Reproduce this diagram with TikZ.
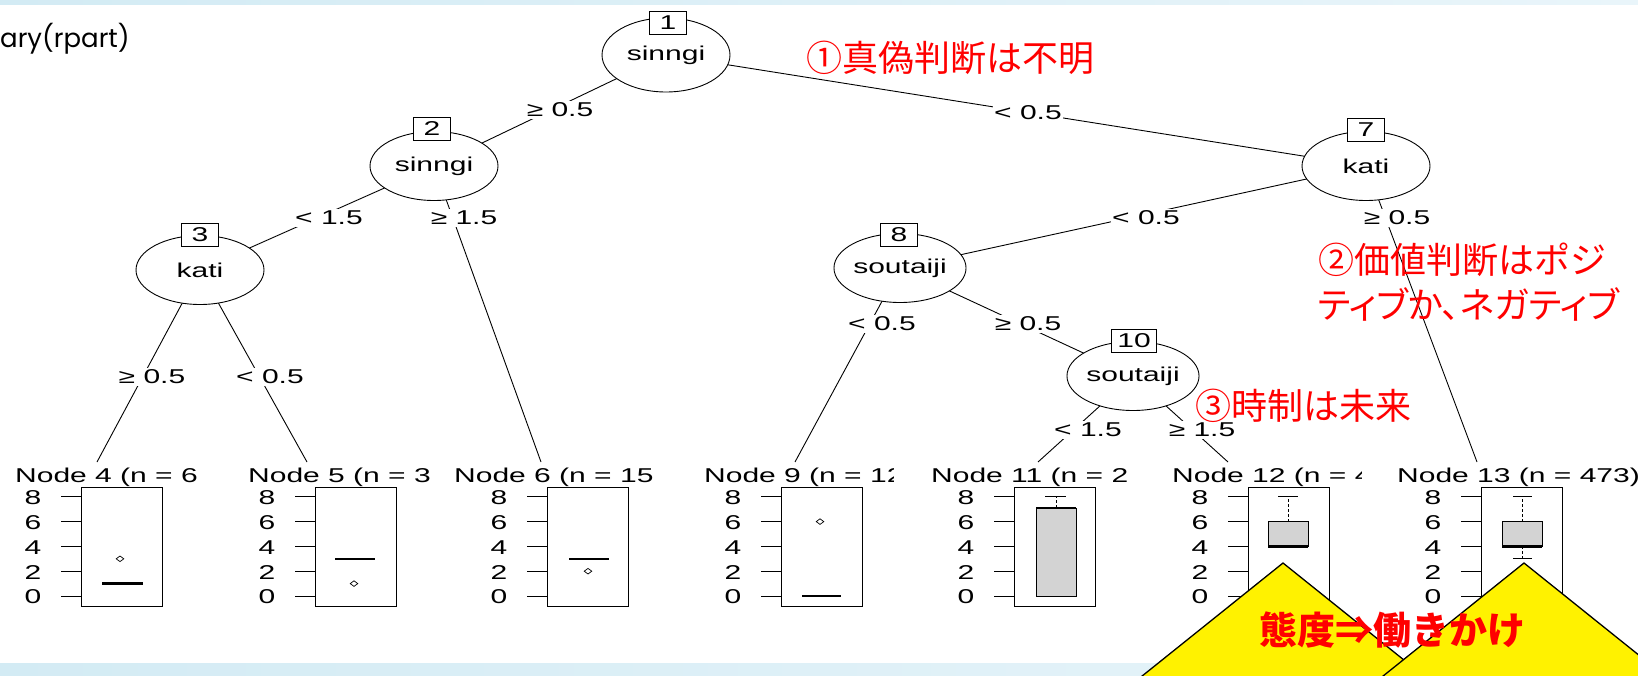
\documentclass[tikz,border=0pt]{standalone}
\usepackage{fontspec}
\usetikzlibrary{shapes.geometric}
\newfontfamily\rfont[FakeStretch=1.5]{Liberation Sans}
\newfontfamily\cjk{Noto Sans CJK JP}
\newfontfamily\cjkp[RawFeature=+palt]{Noto Sans CJK JP}
\newfontfamily\gothic{Poppins}
\definecolor{band}{HTML}{D3EBF4}
\definecolor{bandlight}{HTML}{E9F5FA}
\definecolor{boxgrey}{HTML}{D3D3D3}
\pgfdeclarelayer{back}
\pgfdeclarelayer{edges}
\pgfsetlayers{back,edges,main}
\newcommand\rsz{\rfont\fontsize{20}{24}\selectfont}
\newcommand\leafpanel[5]{% #1 name, #2 box left, #3 title x, #4 title text, #5 clip right
  \begin{scope}
    \clip (#3-4,460) rectangle (#5,495);
    \node[ttl, anchor=west] (title#1) at (#3,477) {#4};
  \end{scope}
  \draw[frame] (#2,487) rectangle ({#2+81},606);
  \foreach \v in {0,2,4,6,8} {
    \draw[tick] ({#2-20},{vy(\v)}) -- (#2,{vy(\v)});
    \node[axnum] (ax#1-\v) at ({#2-48},{vy(\v)+1}) {\v};
  }
}
\newcommand\outl[2]{\draw[outpt] (#1,{vy(#2)}) +(-3.8,0) -- +(0,-2.8) -- +(3.8,0) -- +(0,2.8) -- cycle;}
\begin{document}
\begin{tikzpicture}[x=1pt, y=-1pt,
  declare function={vy(\v)=596-12.4*\v;},
  split/.style={ellipse, draw, fill=white, line width=0.9pt, minimum width=128pt, minimum height=69pt, inner sep=0pt, font=\rsz},
  idbox/.style={rectangle, draw, fill=white, line width=0.9pt, minimum width=37pt, minimum height=23pt, inner xsep=6pt, inner ysep=0pt, font=\rsz},
  elabel/.style={fill=white, inner xsep=1pt, inner ysep=2pt, font=\rsz},
  edge/.style={line width=0.9pt},
  ttl/.style={inner sep=0pt, font=\rsz},
  axnum/.style={inner sep=0pt, font=\rsz},
  frame/.style={line width=0.9pt},
  tick/.style={line width=0.9pt},
  med/.style={line width=2.4pt},
  outpt/.style={line width=0.7pt},
  gbox/.style={draw, fill=boxgrey, line width=0.9pt},
  whisk/.style={line width=0.9pt, dash pattern=on 3pt off 2pt},
  tri/.style={draw=black, fill=yellow, line width=1.3pt, line join=miter},
  note/.style={text=red, inner sep=0pt, anchor=west, font=\cjk\fontsize{36}{44}\selectfont}
]
\useasboundingbox (0,0) rectangle (1638,676);
\clip (0,0) rectangle (1638,676);
\begin{pgfonlayer}{back}
  \fill[white] (0,0) rectangle (1638,676);
  \shade[left color=band, right color=bandlight] (0,0) rectangle (1638,5);
  \shade[left color=band, right color=bandlight] (0,663) rectangle (1638,676);
\end{pgfonlayer}

% title fragment
\node[inner sep=0pt, anchor=west, font=\gothic\fontsize{26}{30}\selectfont] (lib) at (0,39) {ary(rpart)};

% inner nodes
\node[split, minimum height=74pt] (n1) at (666,55) {sinngi};
\node[split] (n2) at (434,166) {sinngi};
\node[split] (n3) at (200,270) {kati};
\node[split] (n7) at (1366,166) {kati};
\node[split, minimum width=130pt] (n8) at (900,268) {soutaiji};
\node[split] (n10) at (1133,376) {soutaiji};
\node[idbox] (id1) at (668,23) {1};
\node[idbox] (id2) at (432,129) {2};
\node[idbox] (id3) at (200,235) {3};
\node[idbox] (id7) at (1366,130) {7};
\node[idbox] (id8) at (899,235) {8};
\node[idbox] (id10) at (1134,341) {10};

% leaf top points
\coordinate (t4) at (97,462);
\coordinate (t5) at (307,462);
\coordinate (t6) at (541,462);
\coordinate (t9) at (795,462);
\coordinate (t11) at (1038,462);
\coordinate (t12) at (1228,462);
\coordinate (t13) at (1477,462);

\begin{pgfonlayer}{edges}
  \draw[edge] (n1.center) -- (n2.center);
  \draw[edge] (n1.center) -- (n7.center);
  \draw[edge] (n2.center) -- (n3.center);
  \draw[edge] (n2.center) -- (t6);
  \draw[edge] (n3.center) -- (t4);
  \draw[edge] (n3.center) -- (t5);
  \draw[edge] (n7.center) -- (n8.center);
  \draw[edge] (n7.center) -- (t13);
  \draw[edge] (n8.center) -- (t9);
  \draw[edge] (n8.center) -- (n10.center);
  \draw[edge] (n10.center) -- (t11);
  \draw[edge] (n10.center) -- (t12);
\end{pgfonlayer}

% edge labels
\node[elabel] (l12) at (560,110) {≥ 0.5};
\node[elabel] (l17) at (1028,113) {< 0.5};
\node[elabel] (l23) at (329,218) {< 1.5};
\node[elabel] (l26) at (464,218) {≥ 1.5};
\node[elabel] (l34) at (152,377) {≥ 0.5};
\node[elabel] (l35) at (270,377) {< 0.5};
\node[elabel] (l78) at (1146,218) {< 0.5};
\node[elabel] (l713) at (1397,218) {≥ 0.5};
\node[elabel] (l89) at (882,324) {< 0.5};
\node[elabel] (l810) at (1028,324) {≥ 0.5};
\node[elabel] (l1011) at (1088,430) {< 1.5};
\node[elabel] (l1012) at (1202,430) {≥ 1.5};

% terminal panels
\leafpanel{4}{81}{15}{Node 4 (n = 6}{205}
\leafpanel{5}{315}{248}{Node 5 (n = 3}{437}
\leafpanel{6}{547}{454}{Node 6 (n = 151}{652}
\leafpanel{9}{781}{704}{Node 9 (n = 12}{893}
\leafpanel{11}{1014}{931}{Node 11 (n = 2}{1137}
\leafpanel{12}{1248}{1172}{Node 12 (n = 4}{1361}
\leafpanel{13}{1481}{1397}{Node 13 (n = 473)}{1650}

% panel contents
\draw[med] (102,{vy(1)}) -- (143,{vy(1)});
\outl{120}{3}
\draw[med] (335,{vy(3)}) -- (375,{vy(3)});
\outl{354}{1}
\draw[med] (569,{vy(3)}) -- (609,{vy(3)});
\outl{588}{2}
\draw[med] (802,{vy(0)}) -- (841,{vy(0)});
\outl{820}{6}
% node 11
\draw[whisk] (1056,{vy(7.1)}) -- (1056,{vy(8)});
\draw[tick] (1045,{vy(8)}) -- (1066,{vy(8)});
\draw[gbox] (1036,{vy(0)}) rectangle (1076,{vy(7.1)});
\draw[med] (1036,{vy(7.1)}) -- (1076,{vy(7.1)});
% node 12
\draw[whisk] (1288,{vy(6)}) -- (1288,{vy(8)});
\draw[tick] (1278,{vy(8)}) -- (1298,{vy(8)});
\draw[gbox] (1268,{vy(4)}) rectangle (1308,{vy(6)});
\draw[med] (1268,{vy(4)}) -- (1308,{vy(4)});
% node 13
\draw[whisk] (1522,{vy(6)}) -- (1522,{vy(8)});
\draw[tick] (1513,{vy(8)}) -- (1532,{vy(8)});
\draw[whisk] (1522,{vy(4)}) -- (1522,{vy(3)});
\draw[tick] (1513,{vy(3)}) -- (1532,{vy(3)});
\draw[gbox] (1502,{vy(4)}) rectangle (1542,{vy(6)});
\draw[med] (1502,{vy(4)}) -- (1542,{vy(4)});

% notes
\node[note] (c1) at (806,58) {①真偽判断は不明};
\node[note] (c2a) at (1318,260) {②価値判断はポジ};
\node[note] (c2b) at (1318,304) {\cjkp ティブか、ネガティブ};
\node[note] (c3) at (1195,406) {③時制は未来};

% yellow shapes
\filldraw[tri] (1283,563) -- (1096,713) -- (1470,713) -- cycle;
\filldraw[tri] (1524,563) -- (1337,713) -- (1711,713) -- cycle;
\node[note, anchor=center, font=\cjk\bfseries\fontsize{38}{44}\selectfont] (c4) at (1392,630) {態度⇒働きかけ};
\end{tikzpicture}
\end{document}
